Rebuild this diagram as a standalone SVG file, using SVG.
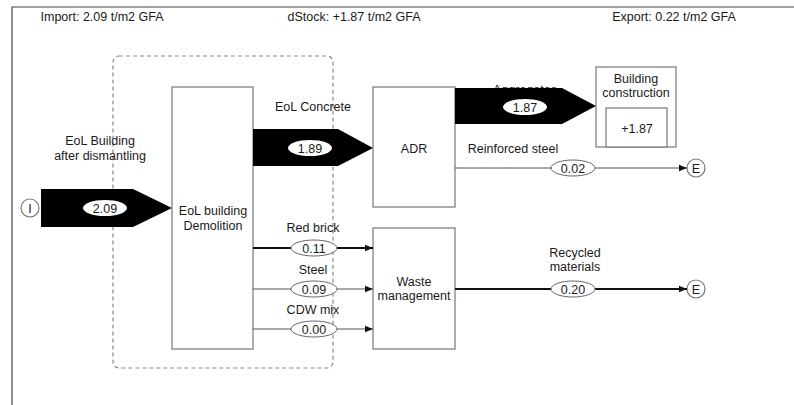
<svg xmlns="http://www.w3.org/2000/svg" width="794" height="405" viewBox="0 0 794 405">
<defs>
<style>
text{font-family:"Liberation Sans",Arial,sans-serif;font-size:12.5px;fill:#1a1a1a;text-anchor:middle}
.box{fill:#fff;stroke:#777;stroke-width:1.2}
.band{fill:#000}
.lbl{fill:#fff;stroke:#666;stroke-width:1}
.blbl{fill:#fff;stroke:none}
.thin{stroke:#555;stroke-width:1;fill:none}
.thick{stroke:#111;stroke-width:2;fill:none}
.dash{fill:none;stroke:#888;stroke-width:1.2;stroke-dasharray:4,3}
.term{fill:#fff;stroke:#777;stroke-width:1.2}
</style>
<marker id="ah" viewBox="0 0 10 10" refX="10" refY="5" markerWidth="8" markerHeight="8" markerUnits="userSpaceOnUse" orient="auto"><path d="M0,1 L10,5 L0,9 Z" fill="#111"/></marker>
</defs>
<rect width="794" height="405" fill="#fff"/>
<g id="frame">
<path d="M12,405 L12,7 L794,7" fill="none" stroke="#444" stroke-width="1.2"/>
<text x="102" y="21">Import: 2.09 t/m2 GFA</text>
<text x="354" y="21">dStock: +1.87 t/m2 GFA</text>
<text x="674" y="21">Export: 0.22 t/m2 GFA</text>
</g>
<g id="system-boundary">
<rect class="dash" x="113" y="56" width="220" height="312" rx="6"/>
</g>
<g id="import">
<circle class="term" cx="30" cy="208" r="9"/>
<text x="30" y="212.5">I</text>
</g>
<g id="demolition">
<rect class="box" x="172" y="87" width="81" height="262"/>
<text x="213" y="215">EoL building</text>
<text x="213" y="230">Demolition</text>
</g>
<g id="adr">
<rect class="box" x="373" y="87" width="82" height="120"/>
<text x="414" y="152.5">ADR</text>
</g>
<g id="waste-management">
<rect class="box" x="373" y="228" width="82" height="121"/>
<text x="414" y="286">Waste</text>
<text x="414" y="300">management</text>
</g>
<g id="building-construction">
<rect class="box" x="596" y="67" width="80" height="80"/>
<rect class="box" x="606" y="108" width="61" height="39"/>
<text x="636" y="83">Building</text>
<text x="636" y="97">construction</text>
<text x="637" y="132.5">+1.87</text>
</g>
<g id="export-1">
<circle class="term" cx="696" cy="168" r="9"/>
<text x="696" y="172.5">E</text>
</g>
<g id="export-2">
<circle class="term" cx="696" cy="289" r="9"/>
<text x="696" y="293.5">E</text>
</g>
<g id="connectors">
<text x="100" y="145">EoL Building</text>
<text x="100" y="160">after dismantling</text>
<path class="band" d="M41,189 L133,189 L172,208 L133,227 L41,227 Z"/>
<ellipse class="blbl" cx="105" cy="208" rx="22" ry="8"/>
<text x="105" y="212.5">2.09</text>
<text x="313" y="111">EoL Concrete</text>
<path class="band" d="M253,129 L338,129 L373,148 L338,166 L253,166 Z"/>
<ellipse class="blbl" cx="310" cy="148" rx="22" ry="8"/>
<text x="310" y="152.5">1.89</text>
<text x="525" y="94">Aggregates</text>
<path class="band" d="M455,88 L562,88 L596,106 L562,124 L455,124 Z"/>
<ellipse class="blbl" cx="525" cy="107" rx="22" ry="8"/>
<text x="525" y="111.5">1.87</text>
<text x="513" y="152.5">Reinforced steel</text>
<line class="thin" x1="455" y1="168" x2="687" y2="168" marker-end="url(#ah)"/>
<ellipse class="lbl" cx="573" cy="168" rx="22" ry="8"/>
<text x="573" y="172.5">0.02</text>
<text x="313" y="231.5">Red brick</text>
<line class="thick" x1="253" y1="248" x2="373" y2="248" marker-end="url(#ah)"/>
<ellipse class="lbl" cx="314" cy="248" rx="23" ry="8"/>
<text x="314" y="252.5">0.11</text>
<text x="313" y="273.5">Steel</text>
<line class="thin" x1="253" y1="289" x2="373" y2="289" marker-end="url(#ah)"/>
<ellipse class="lbl" cx="314" cy="289" rx="23" ry="8"/>
<text x="314" y="293.5">0.09</text>
<text x="313" y="313.5">CDW mix</text>
<line class="thin" x1="253" y1="329" x2="373" y2="329" marker-end="url(#ah)"/>
<ellipse class="lbl" cx="314" cy="329" rx="23" ry="8"/>
<text x="314" y="333.5">0.00</text>
<text x="575" y="256.5">Recycled</text>
<text x="575" y="270.5">materials</text>
<line class="thick" x1="455" y1="289" x2="687" y2="289" marker-end="url(#ah)"/>
<ellipse class="lbl" cx="573" cy="289" rx="22" ry="8"/>
<text x="573" y="293.5">0.20</text>
</g>
</svg>
